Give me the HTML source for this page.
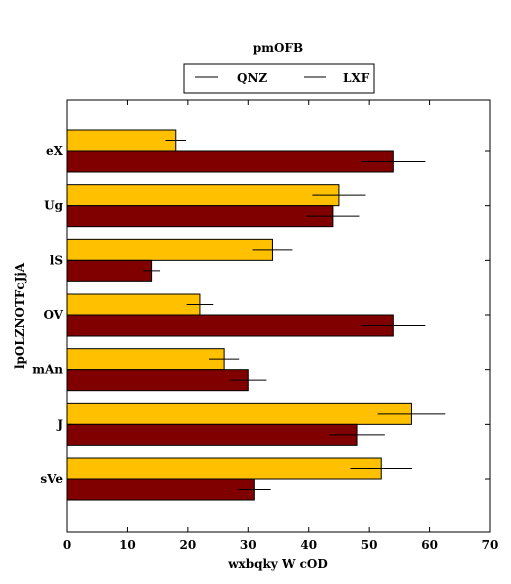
<!DOCTYPE html>
<html><head><meta charset="utf-8"><style>
html,body{margin:0;padding:0;background:#fff;overflow:hidden;width:511px;height:584px;}
svg{display:block;}
text{font-family:"DejaVu Serif","Liberation Serif",serif;font-weight:bold;font-size:12px;fill:#000;}
</style></head><body>
<svg id="c" width="511" height="584" xmlns="http://www.w3.org/2000/svg"></svg>
<script>
const categories=["eX","Ug","lS","OV","mAn","J","sVe"];
const qnzValues=[18,45,34,22,26,57,52];
const qnzErrors=[1.7,4.4,3.3,2.2,2.5,5.6,5.1];
const lxfValues=[54,44,14,54,30,48,31];
const lxfErrors=[5.3,4.4,1.4,5.3,3,4.6,2.7];
const xTicks=[0,10,20,30,40,50,60,70];
const svg=document.getElementById('c');
const NS='http://www.w3.org/2000/svg';
const L=67,R=490,T=100,B=532;
const x=v=>L+(v/70)*(R-L);
const yc=i=>151+i*54.67;
const bh=21;
function el(t,a,p){const e=document.createElementNS(NS,t);for(const k in a)e.setAttribute(k,a[k]);(p||svg).appendChild(e);return e;}
let t=el('text',{x:278,y:52,'text-anchor':'middle','font-size':13});t.textContent='pmOFB';


categories.forEach((c,i)=>{
  let b=el('rect',{x:L,y:yc(i)-bh,width:x(qnzValues[i])-L,height:bh,fill:'#ffc000',stroke:'#000','stroke-width':1});
  
  
  let b2=el('rect',{x:L,y:yc(i),width:x(lxfValues[i])-L,height:bh,fill:'#800000',stroke:'#000','stroke-width':1});
  
  
  let e1=el('line',{x1:x(qnzValues[i]-qnzErrors[i]),x2:x(qnzValues[i]+qnzErrors[i]),y1:yc(i)-bh/2,y2:yc(i)-bh/2,stroke:'#000'});
  
  
  let e2=el('line',{x1:x(lxfValues[i]-lxfErrors[i]),x2:x(lxfValues[i]+lxfErrors[i]),y1:yc(i)+bh/2,y2:yc(i)+bh/2,stroke:'#000'});
  
  
  el('line',{x1:L,x2:L+5,y1:yc(i),y2:yc(i),stroke:'#000'});
  el('line',{x1:R-5,x2:R,y1:yc(i),y2:yc(i),stroke:'#000'});
  let lb=el('text',{x:L-4,y:yc(i)+4,'text-anchor':'end'});lb.textContent=c;
  
  
});
let fr=el('rect',{x:L,y:T,width:R-L,height:B-T,fill:'none',stroke:'#000'});


xTicks.forEach(v=>{
  el('line',{x1:x(v),x2:x(v),y1:B,y2:B-5,stroke:'#000'});
  el('line',{x1:x(v),x2:x(v),y1:T,y2:T+5,stroke:'#000'});
  let tl=el('text',{x:x(v),y:549,'text-anchor':'middle'});tl.textContent=v;
  
  
});
let xt=el('text',{x:278,y:568,'text-anchor':'middle'});xt.textContent='wxbqky W cOD';


let yt=el('text',{x:0,y:0,'text-anchor':'middle',transform:'translate(24,316) rotate(-90)'});yt.textContent='lpOLZNOTFcJjA';


let lg=el('g',{});


el('rect',{x:184,y:64,width:190,height:29,fill:'#fff',stroke:'#000'},lg);
el('line',{x1:195,x2:218,y1:77,y2:77,stroke:'#000'},lg);
let q=el('text',{x:237,y:82},lg);q.textContent='QNZ';
el('line',{x1:304,x2:326,y1:77,y2:77,stroke:'#000'},lg);
let lx=el('text',{x:343,y:82},lg);lx.textContent='LXF';
</script>
</body></html>
